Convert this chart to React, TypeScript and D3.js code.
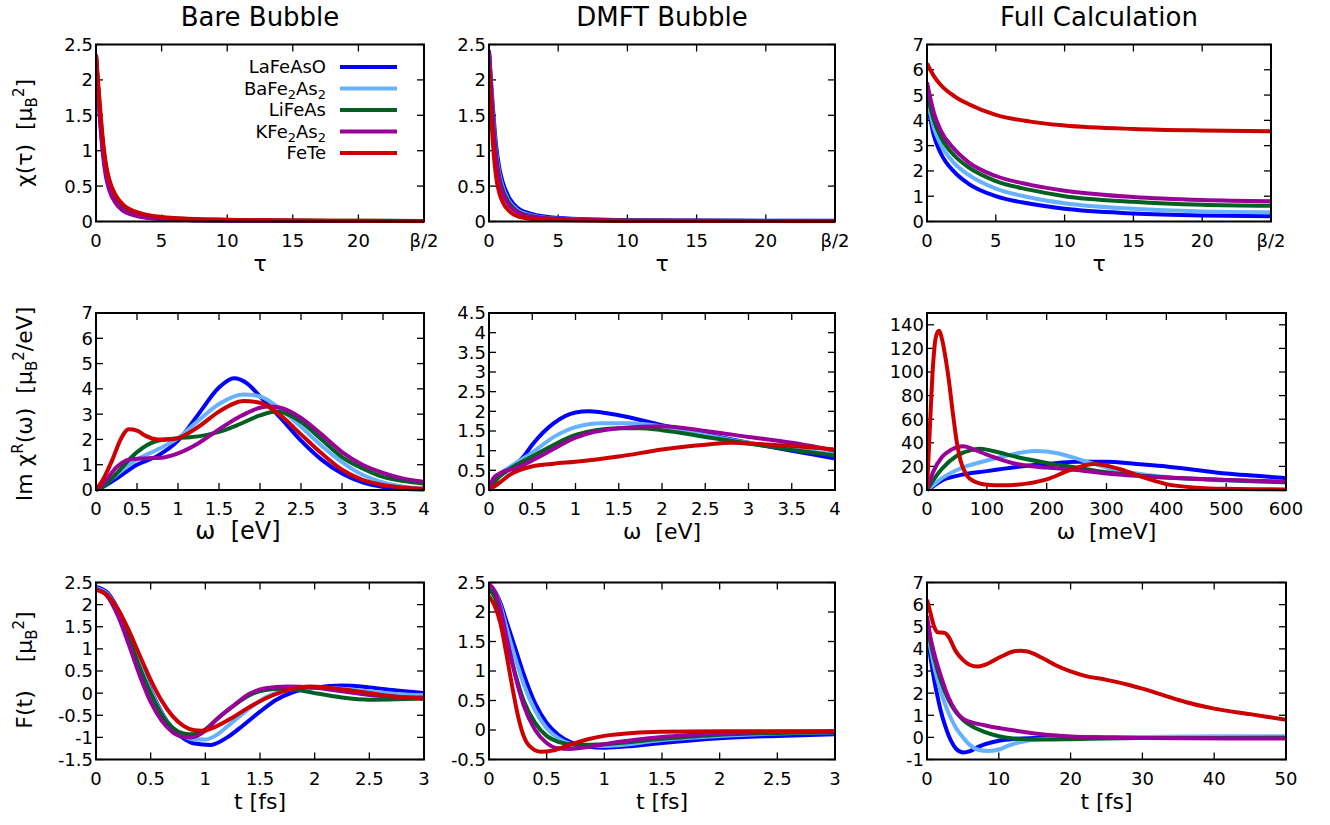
import React from 'react';
import * as d3 from 'd3';

type Pt = [number, number];

// series order and colours (gnuplot-like palette)
const materials = ['LaFeAsO', 'BaFe2As2', 'LiFeAs', 'KFe2As2', 'FeTe'];
const colors = ['#0000ff', '#66b2ff', '#006020', '#990099', '#cc0000'];

// --- row 1: chi(tau) ---
const bareTau: Record<string, Pt[]> = {
  LaFeAsO: [[0, 2.33], [0.25, 1.6], [0.5, 1.05], [0.75, 0.7], [1, 0.5], [1.5, 0.29], [2, 0.18], [3, 0.09], [4, 0.055], [5, 0.035], [7, 0.02], [10, 0.012], [15, 0.008], [20, 0.006], [25, 0.005]],
  BaFe2As2: [[0, 2.34], [0.25, 1.63], [0.5, 1.08], [0.75, 0.72], [1, 0.52], [1.5, 0.3], [2, 0.19], [3, 0.1], [4, 0.06], [5, 0.04], [7, 0.022], [10, 0.014], [15, 0.009], [20, 0.007], [25, 0.006]],
  LiFeAs: [[0, 2.34], [0.25, 1.7], [0.5, 1.15], [0.75, 0.78], [1, 0.57], [1.5, 0.35], [2, 0.23], [3, 0.13], [4, 0.08], [5, 0.055], [7, 0.035], [10, 0.022], [15, 0.013], [20, 0.01], [25, 0.008]],
  KFe2As2: [[0, 2.36], [0.25, 1.58], [0.5, 1.0], [0.75, 0.64], [1, 0.45], [1.5, 0.26], [2, 0.16], [3, 0.085], [4, 0.05], [5, 0.035], [7, 0.02], [10, 0.013], [15, 0.009], [20, 0.007], [25, 0.006]],
  FeTe: [[0, 2.35], [0.25, 1.75], [0.5, 1.2], [0.75, 0.82], [1, 0.6], [1.5, 0.37], [2, 0.25], [3, 0.14], [4, 0.09], [5, 0.065], [7, 0.04], [10, 0.025], [15, 0.015], [20, 0.01], [25, 0.008]],
};
const dmftTau: Record<string, Pt[]> = {
  LaFeAsO: [[0, 2.4], [0.25, 1.7], [0.5, 1.1], [0.75, 0.75], [1, 0.55], [1.5, 0.32], [2, 0.2], [3, 0.11], [5, 0.05], [10, 0.02], [15, 0.013], [25, 0.01]],
  BaFe2As2: [[0, 2.4], [0.25, 1.6], [0.5, 1.0], [0.75, 0.67], [1, 0.48], [1.5, 0.27], [2, 0.17], [3, 0.09], [5, 0.04], [10, 0.017], [15, 0.011], [25, 0.008]],
  LiFeAs: [[0, 2.38], [0.25, 1.55], [0.5, 0.95], [0.75, 0.62], [1, 0.44], [1.5, 0.25], [2, 0.15], [3, 0.08], [5, 0.037], [10, 0.016], [15, 0.01], [25, 0.008]],
  KFe2As2: [[0, 2.42], [0.25, 1.5], [0.5, 0.9], [0.75, 0.58], [1, 0.4], [1.5, 0.22], [2, 0.14], [3, 0.07], [5, 0.035], [10, 0.015], [15, 0.01], [25, 0.008]],
  FeTe: [[0, 2.2], [0.25, 1.2], [0.5, 0.65], [0.75, 0.4], [1, 0.27], [1.5, 0.14], [2, 0.08], [3, 0.04], [5, 0.02], [10, 0.008], [25, 0.005]],
};
const fullTau: Record<string, Pt[]> = {
  LaFeAsO: [[0, 4.8], [0.5, 3.4], [1, 2.7], [2, 1.95], [3, 1.5], [5, 1.0], [7.5, 0.7], [10, 0.5], [15, 0.32], [20, 0.24], [25, 0.21]],
  BaFe2As2: [[0, 4.9], [0.5, 3.7], [1, 3.05], [2, 2.3], [3, 1.85], [5, 1.3], [7.5, 0.95], [10, 0.72], [15, 0.5], [20, 0.4], [25, 0.37]],
  LiFeAs: [[0, 5.1], [0.5, 4.0], [1, 3.35], [2, 2.6], [3, 2.15], [5, 1.6], [7.5, 1.25], [10, 1.0], [15, 0.78], [20, 0.66], [25, 0.62]],
  KFe2As2: [[0, 5.5], [0.5, 4.3], [1, 3.6], [2, 2.85], [3, 2.35], [5, 1.8], [7.5, 1.45], [10, 1.22], [15, 0.97], [20, 0.85], [25, 0.8]],
  FeTe: [[0, 6.25], [0.5, 5.75], [1, 5.4], [2, 4.95], [3, 4.65], [5, 4.22], [7.5, 3.95], [10, 3.8], [15, 3.66], [20, 3.6], [25, 3.57]],
};

// --- row 2: Im chi^R(omega) ---
const bareOmega: Record<string, Pt[]> = {
  LaFeAsO: [[0, 0], [0.1, 0.15], [0.25, 0.45], [0.5, 1.0], [0.75, 1.35], [1, 1.95], [1.25, 3.0], [1.5, 4.05], [1.68, 4.42], [1.85, 4.2], [2, 3.7], [2.25, 2.85], [2.5, 1.95], [2.75, 1.2], [3, 0.65], [3.25, 0.3], [3.5, 0.12], [3.75, 0.05], [4, 0.02]],
  BaFe2As2: [[0, 0], [0.1, 0.2], [0.25, 0.6], [0.5, 1.2], [0.75, 1.6], [1, 2.05], [1.25, 2.75], [1.5, 3.4], [1.8, 3.78], [2, 3.7], [2.25, 3.2], [2.5, 2.5], [2.75, 1.75], [3, 1.1], [3.25, 0.6], [3.5, 0.3], [3.75, 0.13], [4, 0.05]],
  LiFeAs: [[0, 0], [0.1, 0.15], [0.25, 0.65], [0.5, 1.5], [0.75, 1.95], [1, 2.05], [1.25, 2.12], [1.5, 2.3], [1.75, 2.6], [2, 2.95], [2.2, 3.1], [2.5, 2.7], [2.75, 2.0], [3, 1.3], [3.25, 0.85], [3.5, 0.52], [3.75, 0.35], [4, 0.25]],
  KFe2As2: [[0, 0], [0.1, 0.3], [0.25, 0.9], [0.4, 1.2], [0.6, 1.25], [0.8, 1.28], [1, 1.45], [1.25, 1.85], [1.5, 2.4], [1.75, 2.9], [2, 3.25], [2.1, 3.3], [2.25, 3.25], [2.5, 2.85], [2.75, 2.2], [3, 1.5], [3.25, 1.0], [3.5, 0.68], [3.75, 0.45], [4, 0.33]],
  FeTe: [[0, 0], [0.1, 0.5], [0.2, 1.2], [0.3, 2.0], [0.4, 2.4], [0.5, 2.35], [0.6, 2.15], [0.75, 2.0], [0.9, 2.0], [1, 2.05], [1.25, 2.5], [1.5, 3.1], [1.8, 3.52], [2, 3.45], [2.25, 2.95], [2.5, 2.2], [2.75, 1.45], [3, 0.8], [3.25, 0.4], [3.5, 0.2], [3.75, 0.1], [4, 0.05]],
};
const dmftOmega: Record<string, Pt[]> = {
  LaFeAsO: [[0, 0], [0.1, 0.3], [0.25, 0.55], [0.4, 0.85], [0.5, 1.15], [0.75, 1.7], [1, 1.97], [1.15, 2.0], [1.5, 1.9], [2, 1.65], [2.5, 1.42], [3, 1.2], [3.5, 1.0], [4, 0.8]],
  BaFe2As2: [[0, 0], [0.1, 0.35], [0.25, 0.6], [0.5, 0.95], [0.75, 1.35], [1, 1.6], [1.3, 1.7], [1.6, 1.7], [2, 1.62], [2.5, 1.4], [3, 1.2], [3.5, 1.05], [4, 0.9]],
  LiFeAs: [[0, 0], [0.1, 0.3], [0.25, 0.55], [0.5, 0.85], [0.75, 1.15], [1, 1.4], [1.5, 1.57], [1.75, 1.57], [2, 1.52], [2.5, 1.35], [3, 1.18], [3.5, 1.02], [4, 0.88]],
  KFe2As2: [[0, 0], [0.05, 0.3], [0.15, 0.45], [0.3, 0.55], [0.5, 0.75], [0.75, 1.05], [1, 1.33], [1.5, 1.57], [2, 1.62], [2.5, 1.5], [3, 1.35], [3.5, 1.2], [4, 1.0]],
  FeTe: [[0, 0], [0.1, 0.15], [0.25, 0.4], [0.5, 0.6], [0.75, 0.67], [1, 0.72], [1.5, 0.85], [2, 1.03], [2.5, 1.15], [2.8, 1.2], [3, 1.18], [3.5, 1.12], [4, 1.03]],
};
const fullOmega: Record<string, Pt[]> = {
  LaFeAsO: [[0, 0], [10, 3], [25, 8], [50, 12], [100, 16], [150, 19.5], [200, 22], [250, 24], [300, 24], [350, 22], [400, 20], [450, 17], [500, 14], [550, 12], [600, 10]],
  BaFe2As2: [[0, 0], [10, 4], [25, 10], [50, 17], [100, 25], [150, 31], [180, 33], [220, 31], [260, 25], [300, 19], [350, 14], [400, 11], [500, 8], [600, 6.5]],
  LiFeAs: [[0, 0], [10, 8], [25, 18], [50, 29], [75, 34], [90, 35], [110, 33], [150, 28], [200, 23], [250, 19], [300, 15], [350, 12.5], [400, 10.5], [500, 8.5], [600, 6.5]],
  KFe2As2: [[0, 0], [10, 15], [25, 28], [40, 34], [60, 37], [80, 34], [100, 30], [150, 22], [200, 19], [250, 17], [300, 14], [350, 12], [400, 10.5], [500, 8.5], [600, 7]],
  FeTe: [[0, 0], [5, 55], [10, 105], [15, 130], [20, 135], [25, 128], [30, 115], [36, 95], [44, 62], [50, 40], [56, 25], [67, 12], [80, 7], [100, 4.5], [125, 4], [150, 4.5], [200, 9], [240, 17], [280, 22], [320, 18], [360, 11], [400, 5], [450, 2], [500, 1], [600, 0.5]],
};

// --- row 3: F(t) ---
const bareTime: Record<string, Pt[]> = {
  LaFeAsO: [[0, 2.4], [0.1, 2.28], [0.2, 1.9], [0.3, 1.32], [0.4, 0.68], [0.5, 0.08], [0.6, -0.43], [0.7, -0.8], [0.8, -1.02], [0.9, -1.14], [1.05, -1.17], [1.2, -1.0], [1.35, -0.72], [1.5, -0.42], [1.65, -0.15], [1.8, 0.02], [2, 0.12], [2.25, 0.17], [2.5, 0.13], [2.75, 0.06], [3, 0.0]],
  BaFe2As2: [[0, 2.37], [0.1, 2.25], [0.2, 1.88], [0.3, 1.3], [0.4, 0.65], [0.5, 0.05], [0.6, -0.45], [0.7, -0.78], [0.8, -0.97], [0.9, -1.05], [1, -1.05], [1.1, -0.95], [1.25, -0.65], [1.4, -0.35], [1.55, -0.1], [1.7, 0.05], [1.85, 0.1], [2, 0.12], [2.25, 0.1], [2.5, 0.04], [2.75, -0.02], [3, -0.05]],
  LiFeAs: [[0, 2.35], [0.1, 2.22], [0.2, 1.85], [0.3, 1.25], [0.4, 0.58], [0.5, 0.0], [0.6, -0.48], [0.7, -0.78], [0.8, -0.91], [0.88, -0.93], [1, -0.82], [1.1, -0.6], [1.25, -0.3], [1.4, -0.05], [1.55, 0.07], [1.7, 0.1], [1.85, 0.07], [2, 0.0], [2.25, -0.1], [2.5, -0.15], [2.75, -0.14], [3, -0.12]],
  KFe2As2: [[0, 2.35], [0.1, 2.2], [0.2, 1.75], [0.3, 1.1], [0.4, 0.4], [0.5, -0.2], [0.6, -0.62], [0.7, -0.88], [0.8, -0.99], [0.87, -1.0], [1, -0.85], [1.1, -0.6], [1.25, -0.3], [1.4, -0.02], [1.55, 0.11], [1.75, 0.15], [2, 0.12], [2.25, 0.04], [2.5, -0.04], [2.75, -0.08], [3, -0.1]],
  FeTe: [[0, 2.33], [0.1, 2.22], [0.2, 1.9], [0.3, 1.42], [0.4, 0.85], [0.5, 0.3], [0.6, -0.17], [0.7, -0.52], [0.8, -0.74], [0.9, -0.84], [0.97, -0.85], [1.1, -0.75], [1.25, -0.55], [1.4, -0.32], [1.55, -0.12], [1.7, 0.03], [1.85, 0.12], [1.95, 0.15], [2.1, 0.13], [2.3, 0.07], [2.5, 0.0], [2.75, -0.08], [3, -0.13]],
};
const dmftTime: Record<string, Pt[]> = {
  LaFeAsO: [[0, 2.42], [0.05, 2.35], [0.1, 2.15], [0.15, 1.85], [0.2, 1.55], [0.25, 1.25], [0.3, 0.95], [0.4, 0.45], [0.5, 0.12], [0.6, -0.08], [0.7, -0.2], [0.85, -0.28], [1, -0.3], [1.25, -0.27], [1.5, -0.22], [2, -0.14], [2.5, -0.1], [3, -0.07]],
  BaFe2As2: [[0, 2.45], [0.05, 2.35], [0.1, 2.1], [0.15, 1.75], [0.2, 1.4], [0.25, 1.08], [0.3, 0.78], [0.4, 0.33], [0.5, 0.03], [0.6, -0.14], [0.7, -0.23], [0.85, -0.27], [1, -0.27], [1.5, -0.17], [2, -0.1], [2.5, -0.06], [3, -0.04]],
  LiFeAs: [[0, 2.38], [0.05, 2.25], [0.1, 1.95], [0.15, 1.55], [0.2, 1.15], [0.25, 0.8], [0.3, 0.5], [0.4, 0.12], [0.5, -0.1], [0.6, -0.2], [0.75, -0.25], [1, -0.24], [1.5, -0.15], [2, -0.08], [2.5, -0.05], [3, -0.04]],
  KFe2As2: [[0, 2.48], [0.05, 2.35], [0.1, 2.05], [0.15, 1.6], [0.2, 1.15], [0.25, 0.75], [0.3, 0.42], [0.4, 0.0], [0.5, -0.22], [0.6, -0.31], [0.7, -0.32], [0.85, -0.29], [1, -0.24], [1.5, -0.12], [2, -0.06], [2.5, -0.03], [3, -0.02]],
  FeTe: [[0, 2.27], [0.05, 2.1], [0.1, 1.8], [0.15, 1.3], [0.2, 0.75], [0.25, 0.25], [0.3, -0.1], [0.35, -0.27], [0.45, -0.37], [0.55, -0.35], [0.7, -0.25], [0.85, -0.16], [1, -0.1], [1.25, -0.05], [1.5, -0.03], [2, -0.02], [3, -0.02]],
};
const fullTime: Record<string, Pt[]> = {
  LaFeAsO: [[0, 4.8], [0.5, 3.6], [1, 2.6], [1.5, 1.8], [2, 1.1], [2.5, 0.55], [3, 0.1], [3.5, -0.25], [4, -0.5], [5, -0.68], [6, -0.62], [7, -0.45], [8, -0.32], [10, -0.15], [12, -0.07], [15, -0.03], [20, 0], [30, 0.02], [50, 0.03]],
  BaFe2As2: [[0, 5.0], [0.5, 4.0], [1, 3.2], [2, 2.0], [3, 1.1], [4, 0.45], [5, 0.0], [6, -0.35], [7, -0.55], [8.5, -0.62], [10, -0.55], [11, -0.42], [12, -0.3], [14, -0.15], [16, -0.08], [20, -0.02], [30, 0.02], [50, 0.03]],
  LiFeAs: [[0, 5.2], [0.5, 4.3], [1, 3.6], [2, 2.5], [3, 1.7], [4, 1.15], [5, 0.8], [6, 0.55], [8, 0.25], [10, 0.05], [12, -0.05], [15, -0.1], [20, -0.08], [25, -0.05], [30, -0.03], [50, -0.02]],
  KFe2As2: [[0, 5.5], [0.5, 4.5], [1, 3.8], [2, 2.7], [3, 1.8], [4, 1.2], [5, 0.85], [6, 0.7], [8, 0.55], [10, 0.42], [12, 0.32], [15, 0.18], [18, 0.08], [20, 0.04], [25, 0.0], [30, -0.03], [50, -0.05]],
  FeTe: [[0, 6.22], [0.5, 5.6], [1, 5.0], [1.5, 4.75], [2.5, 4.72], [3, 4.55], [4, 3.9], [5, 3.5], [6, 3.27], [7, 3.2], [8, 3.27], [10, 3.6], [12, 3.88], [13, 3.92], [14, 3.88], [16, 3.6], [18, 3.25], [20, 2.98], [22, 2.78], [25, 2.6], [28, 2.38], [30, 2.2], [33, 1.9], [36, 1.6], [40, 1.3], [45, 1.05], [50, 0.8]],
};

// tick values
const tauTicks = [0, 5, 10, 15, 20, 25];
const tauTickLabels = ['0', '5', '10', '15', '20', 'β/2'];
const eVTicks = [0, 0.5, 1, 1.5, 2, 2.5, 3, 3.5, 4];
const meVTicks = [0, 100, 200, 300, 400, 500, 600];
const fsTicks = [0, 0.5, 1, 1.5, 2, 2.5, 3];
const fsLongTicks = [0, 10, 20, 30, 40, 50];

const colLeft = [96, 489, 927];
const colRight = [[424, 835, 1271], [424, 835, 1286], [424, 835, 1286]];
const rowTop = [44.5, 313, 582.5];
const rowBottom = [221.5, 490, 759.5];

const FONT = 'DejaVu Sans, Verdana, sans-serif';

interface PanelProps {
  row: number;
  col: number;
  data: Record<string, Pt[]>;
  xDomain: [number, number];
  yDomain: [number, number];
  xTicks: number[];
  xTickLabels?: string[];
  yStep: number;
  yMaxLabel?: number;
  xLabel: React.ReactNode;
  xLabelSize?: number;
  xLabelShift?: number;
  legend?: boolean;
}

const Panel: React.FC<PanelProps> = ({ row, col, data, xDomain, yDomain, xTicks, xTickLabels, yStep, yMaxLabel, xLabel, xLabelSize = 22, xLabelShift = 0, legend }) => {
  const x0 = colLeft[col], x1 = colRight[row][col];
  const y0 = rowTop[row], y1 = rowBottom[row];
  const x = d3.scaleLinear().domain(xDomain).range([x0, x1]);
  const y = d3.scaleLinear().domain(yDomain).range([y1, y0]);
  const yTicks = d3.range(yDomain[0], (yMaxLabel ?? yDomain[1]) + yStep / 2, yStep).map(v => Math.round(v * 100) / 100);
  const line = d3.line<Pt>().x(d => x(d[0])).y(d => y(d[1])).curve(d3.curveMonotoneX);
  const clipId = `clip-${row}-${col}`;
  const tl = 7;
  return (
    <g>
      <defs>
        <clipPath id={clipId}>
          <rect x={x0} y={y0 - 2} width={x1 - x0} height={y1 - y0 + 4} />
        </clipPath>
      </defs>
      {/* ticks, mirrored */}
      {xTicks.map((t, i) => (
        <g key={'xt' + i}>
          <line x1={x(t)} x2={x(t)} y1={y1} y2={y1 - tl} stroke="#000" strokeWidth={1.3} />
          <line x1={x(t)} x2={x(t)} y1={y0} y2={y0 + tl} stroke="#000" strokeWidth={1.3} />
          <text x={x(t)} y={y1 + 25} textAnchor="middle" fontSize={18} fontFamily={FONT}>
            {xTickLabels ? xTickLabels[i] : String(t)}
          </text>
        </g>
      ))}
      {yTicks.map((t, i) => (
        <g key={'yt' + i}>
          <line x1={x0} x2={x0 + tl} y1={y(t)} y2={y(t)} stroke="#000" strokeWidth={1.3} />
          <line x1={x1} x2={x1 - tl} y1={y(t)} y2={y(t)} stroke="#000" strokeWidth={1.3} />
          <text x={x0 - 3} y={y(t)} dy="0.36em" textAnchor="end" fontSize={18} fontFamily={FONT}>
            {String(t)}
          </text>
        </g>
      ))}
      <g clipPath={`url(#${clipId})`}>
        {materials.map((m, i) => (
          <path key={m} d={line(data[m]) || ''} fill="none" stroke={colors[i]} strokeWidth={4} strokeLinejoin="round" />
        ))}
      </g>
      <rect x={x0} y={y0} width={x1 - x0} height={y1 - y0} fill="none" stroke="#000" strokeWidth={2} />
      <text x={(x0 + x1) / 2 + xLabelShift} y={y1 + 49} textAnchor="middle" fontSize={xLabelSize} fontFamily={FONT} style={{ whiteSpace: 'pre' }}>
        {xLabel}
      </text>
      {legend && (
        <g>
          {materials.map((m, i) => {
            const ly = 67 + i * 21.5;
            const sub = m.match(/^(\w+?)2(As)2$/);
            return (
              <g key={'lg' + m}>
                <text x={326} y={ly} dy="0.36em" textAnchor="end" fontSize={18} fontFamily={FONT}>
                  {sub ? (
                    <>
                      {sub[1]}
                      <tspan fontSize={13} dy={4}>2</tspan>
                      <tspan dy={-4}>{sub[2]}</tspan>
                      <tspan fontSize={13} dy={4}>2</tspan>
                    </>
                  ) : m}
                </text>
                <line x1={340} x2={397} y1={ly} y2={ly} stroke={colors[i]} strokeWidth={4} />
              </g>
            );
          })}
        </g>
      )}
    </g>
  );
};

const YLabel: React.FC<{ cy: number; children: React.ReactNode }> = ({ cy, children }) => (
  <text transform={`translate(32,${cy}) rotate(-90)`} textAnchor="middle" fontSize={22} fontFamily={FONT} style={{ whiteSpace: 'pre' }}>
    {children}
  </text>
);

const MuB2: React.FC<{ tail?: string }> = ({ tail = ']' }) => (
  <>
    {'[μ'}
    <tspan fontSize={15} dy={5}>B</tspan>
    <tspan fontSize={15} dy={-13}>2</tspan>
    <tspan dy={8}>{tail}</tspan>
  </>
);

export default function App() {
  const titles = ['Bare Bubble', 'DMFT Bubble', 'Full Calculation'];
  return (
    <svg width={1330} height={825} style={{ position: 'absolute', left: 0, top: 0, background: '#fff' }}>
      <rect width={1330} height={825} fill="#fff" />
      {titles.map((t, i) => (
        <text key={t} x={(colLeft[i] + colRight[0][i]) / 2} y={26} textAnchor="middle" fontSize={26} fontFamily={FONT}>{t}</text>
      ))}

      <Panel row={0} col={0} data={bareTau} xDomain={[0, 25]} yDomain={[0, 2.5]} xTicks={tauTicks} xTickLabels={tauTickLabels} yStep={0.5} xLabel="τ" legend />
      <Panel row={0} col={1} data={dmftTau} xDomain={[0, 25]} yDomain={[0, 2.5]} xTicks={tauTicks} xTickLabels={tauTickLabels} yStep={0.5} xLabel="τ" />
      <Panel row={0} col={2} data={fullTau} xDomain={[0, 25]} yDomain={[0, 7]} xTicks={tauTicks} xTickLabels={tauTickLabels} yStep={1} xLabel="τ" />

      <Panel row={1} col={0} data={bareOmega} xDomain={[0, 4]} yDomain={[0, 7]} xTicks={eVTicks} yStep={1} xLabel="ω  [eV]" xLabelSize={24} xLabelShift={-22} />
      <Panel row={1} col={1} data={dmftOmega} xDomain={[0, 4]} yDomain={[0, 4.5]} xTicks={eVTicks} yStep={0.5} xLabel="ω  [eV]" />
      <Panel row={1} col={2} data={fullOmega} xDomain={[0, 600]} yDomain={[0, 150]} xTicks={meVTicks} yStep={20} yMaxLabel={140} xLabel="ω  [meV]" />

      <Panel row={2} col={0} data={bareTime} xDomain={[0, 3]} yDomain={[-1.5, 2.5]} xTicks={fsTicks} yStep={0.5} xLabel="t [fs]" />
      <Panel row={2} col={1} data={dmftTime} xDomain={[0, 3]} yDomain={[-0.5, 2.5]} xTicks={fsTicks} yStep={0.5} xLabel="t [fs]" />
      <Panel row={2} col={2} data={fullTime} xDomain={[0, 50]} yDomain={[-1, 7]} xTicks={fsLongTicks} yStep={1} xLabel="t [fs]" />

      <YLabel cy={133}>
        {'χ(τ)  '}<MuB2 />
      </YLabel>
      <YLabel cy={404}>
        {'Im χ'}<tspan fontSize={15} dy={-9}>R</tspan><tspan dy={9}>{'(ω)  '}</tspan><MuB2 tail="/eV]" />
      </YLabel>
      <YLabel cy={670}>
        {'F(t)    '}<MuB2 />
      </YLabel>
    </svg>
  );
}
